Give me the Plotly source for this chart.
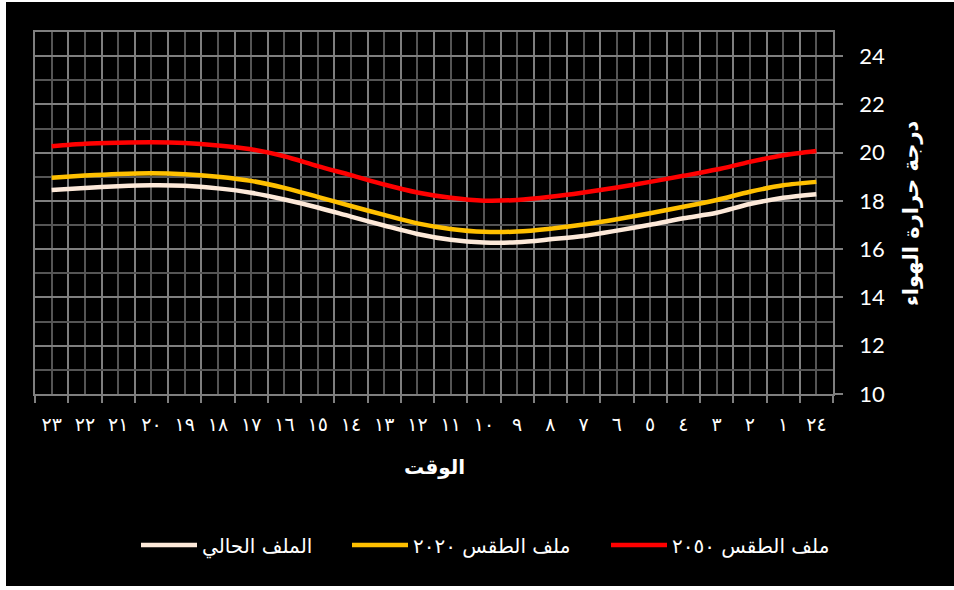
import plotly.graph_objects as go

# Hours as they run along the axis (from the right-hand end): 24, 1, 2, ..., 23
hours = [24] + list(range(1, 24))

# Hourly air temperature (°C) for each weather file, in the same hour order
temp_2050 = [20.07, 19.89, 19.62, 19.30, 19.04, 18.79, 18.56, 18.35, 18.17, 18.04,
             18.01, 18.13, 18.35, 18.68, 19.07, 19.44, 19.85, 20.14, 20.30, 20.40,
             20.43, 20.41, 20.37, 20.27]
temp_2020 = [18.79, 18.65, 18.38, 18.04, 17.76, 17.49, 17.24, 17.02, 16.85, 16.73,
             16.72, 16.84, 17.07, 17.42, 17.79, 18.17, 18.54, 18.83, 19.00, 19.11,
             19.15, 19.12, 19.05, 18.96]
temp_current = [18.28, 18.13, 17.87, 17.51, 17.28, 17.01, 16.77, 16.55, 16.41, 16.29,
                16.28, 16.39, 16.63, 16.98, 17.35, 17.73, 18.06, 18.34, 18.52, 18.63,
                18.65, 18.61, 18.54, 18.45]

series_names = ["الملف الحالي", "ملف الطقس ٢٠٢٠", "ملف الطقس ٢٠٥٠"]
series_colors = ["#FDE9D9", "#FFC000", "#FF0000"]
legend_widths = [140, 188, 170]

y_ticks = list(range(10, 25, 2))

AR_DIGITS = "٠١٢٣٤٥٦٧٨٩"


def to_arabic(n):
    return "".join(AR_DIGITS[int(c)] for c in str(n))


hour_labels = [to_arabic(h) for h in hours]
positions = list(range(len(hours)))

W, H = 954, 590
ML, MR, MT, MB = 35, 121, 32, 196
PW, PH = W - ML - MR, H - MT - MB


def px_to_x(px):
    return (px - ML) / PW


def px_to_y(py):
    return (H - MB - py) / PH


AR_FONT = "DejaVu Sans"
MAJOR_GRID = "#7f7f7f"
MINOR_GRID = "#555555"

fig = go.Figure()
for name, color, values, lw in zip(series_names, series_colors,
                                   [temp_current, temp_2020, temp_2050], legend_widths):
    fig.add_trace(go.Scatter(
        x=positions, y=values, name=name, mode="lines",
        line=dict(color=color, width=4.5, shape="spline", smoothing=0.8),
        legendwidth=lw,
    ))

fig.update_layout(
    template="none",
    width=W, height=H,
    margin=dict(l=ML, r=MR, t=MT, b=MB, pad=0),
    paper_bgcolor="white",
    plot_bgcolor="#404040",
    showlegend=True,
    legend=dict(
        orientation="h",
        x=px_to_x(136), y=px_to_y(545),
        xanchor="left", yanchor="middle",
        font=dict(family=AR_FONT, size=20, color="white"),
        bgcolor="rgba(0,0,0,0)",
        itemwidth=56,
    ),
    xaxis=dict(
        range=[len(hours) - 0.5, -0.5],
        tickmode="array", tickvals=positions, ticktext=hour_labels,
        ticks="", showgrid=True, gridcolor=MINOR_GRID, gridwidth=1.5,
        minor=dict(tick0=-0.5, dtick=1, showgrid=True, gridcolor=MAJOR_GRID,
                   gridwidth=1.5, ticks="outside", ticklen=7, tickcolor=MAJOR_GRID,
                   tickwidth=1.5),
        showline=True, mirror=True, linecolor=MAJOR_GRID, linewidth=1.5,
        zeroline=False, automargin=False,
        tickfont=dict(family=AR_FONT, size=19, color="white"),
        ticklabelstandoff=12,
    ),
    yaxis=dict(
        side="right", range=[10, 25],
        tickmode="array", tickvals=y_ticks,
        ticks="outside", ticklen=8, tickcolor=MAJOR_GRID, tickwidth=1.5,
        showgrid=True, gridcolor=MAJOR_GRID, gridwidth=1.5,
        minor=dict(tick0=10, dtick=1, showgrid=True, gridcolor=MINOR_GRID,
                   gridwidth=1.5),
        showline=True, mirror=True, linecolor=MAJOR_GRID, linewidth=1.5,
        zeroline=False, automargin=False,
        tickfont=dict(family="Lato", size=22, color="white"),
        ticklabelstandoff=12,
    ),
    shapes=[dict(
        type="rect", xref="paper", yref="paper", layer="below",
        x0=px_to_x(6), x1=px_to_x(W), y0=px_to_y(586), y1=px_to_y(2),
        fillcolor="black", line=dict(width=0),
    )],
    annotations=[
        dict(text="<b>الوقت</b>", xref="paper", yref="paper",
             x=0.5, y=px_to_y(467), xanchor="center", yanchor="middle",
             showarrow=False, font=dict(family=AR_FONT, size=20, color="white")),
        dict(text="<b>درجة حرارة الهواء</b>", xref="paper", yref="paper",
             x=px_to_x(911), y=0.5, xanchor="center", yanchor="middle",
             textangle=-90, showarrow=False,
             font=dict(family=AR_FONT, size=21, color="white")),
    ],
)

fig.write_html("out.html")
